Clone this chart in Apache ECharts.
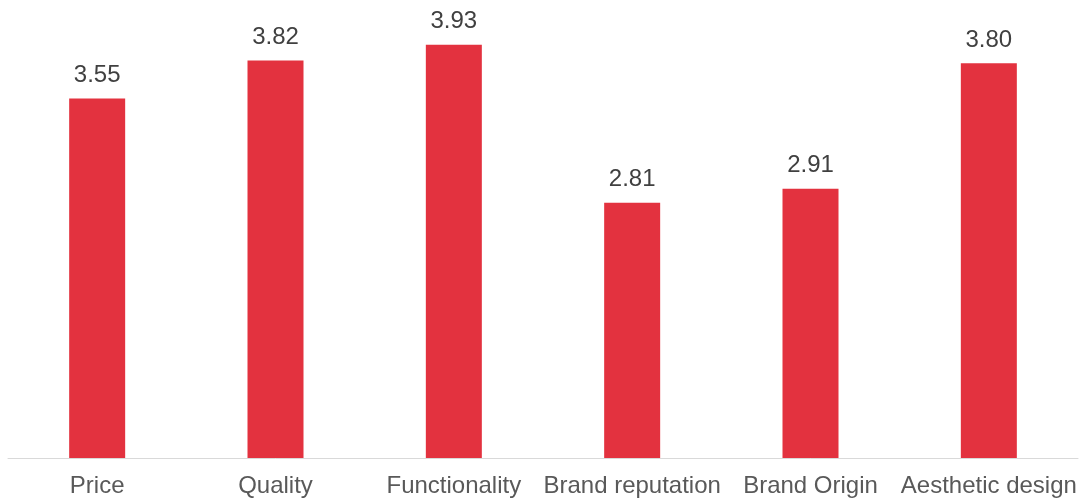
<!DOCTYPE html>
<html>
<head>
<meta charset="utf-8">
<script src="https://cdn.jsdelivr.net/npm/echarts@6/dist/echarts.min.js"></script>
<style>
  html, body { margin: 0; padding: 0; background: #ffffff; }
  #chart { width: 1084px; height: 500px; }
</style>
</head>
<body>
<div id="chart"></div>
<script>
// Mean importance score per purchase factor
const categories = ['Price', 'Quality', 'Functionality', 'Brand reputation', 'Brand Origin', 'Aesthetic design'];
const scores = [3.55, 3.82, 3.93, 2.81, 2.91, 3.80];

const chart = echarts.init(document.getElementById('chart'), null, { renderer: 'canvas' });

chart.setOption({
  animation: false,
  backgroundColor: '#ffffff',
  grid: { left: 8, right: 6, top: 35, bottom: 42, containLabel: false },
  xAxis: {
    type: 'category',
    data: categories,
    axisLine: { show: true, lineStyle: { color: '#D9D9D9', width: 1 } },
    axisTick: { show: false },
    axisLabel: {
      color: '#595959',
      fontFamily: 'Liberation Sans, Arial, sans-serif',
      fontSize: 24,
      margin: 16,
      interval: 0
    }
  },
  yAxis: {
    type: 'value',
    min: 1,
    max: 4,
    show: false,
    splitLine: { show: false }
  },
  series: [{
    type: 'bar',
    data: scores,
    barWidth: 56,
    itemStyle: { color: '#E3323F' },
    label: {
      show: true,
      position: 'top',
      distance: 11,
      color: '#404040',
      fontFamily: 'Liberation Sans, Arial, sans-serif',
      fontSize: 24,
      formatter: p => p.value.toFixed(2)
    }
  }]
});
</script>
</body>
</html>
